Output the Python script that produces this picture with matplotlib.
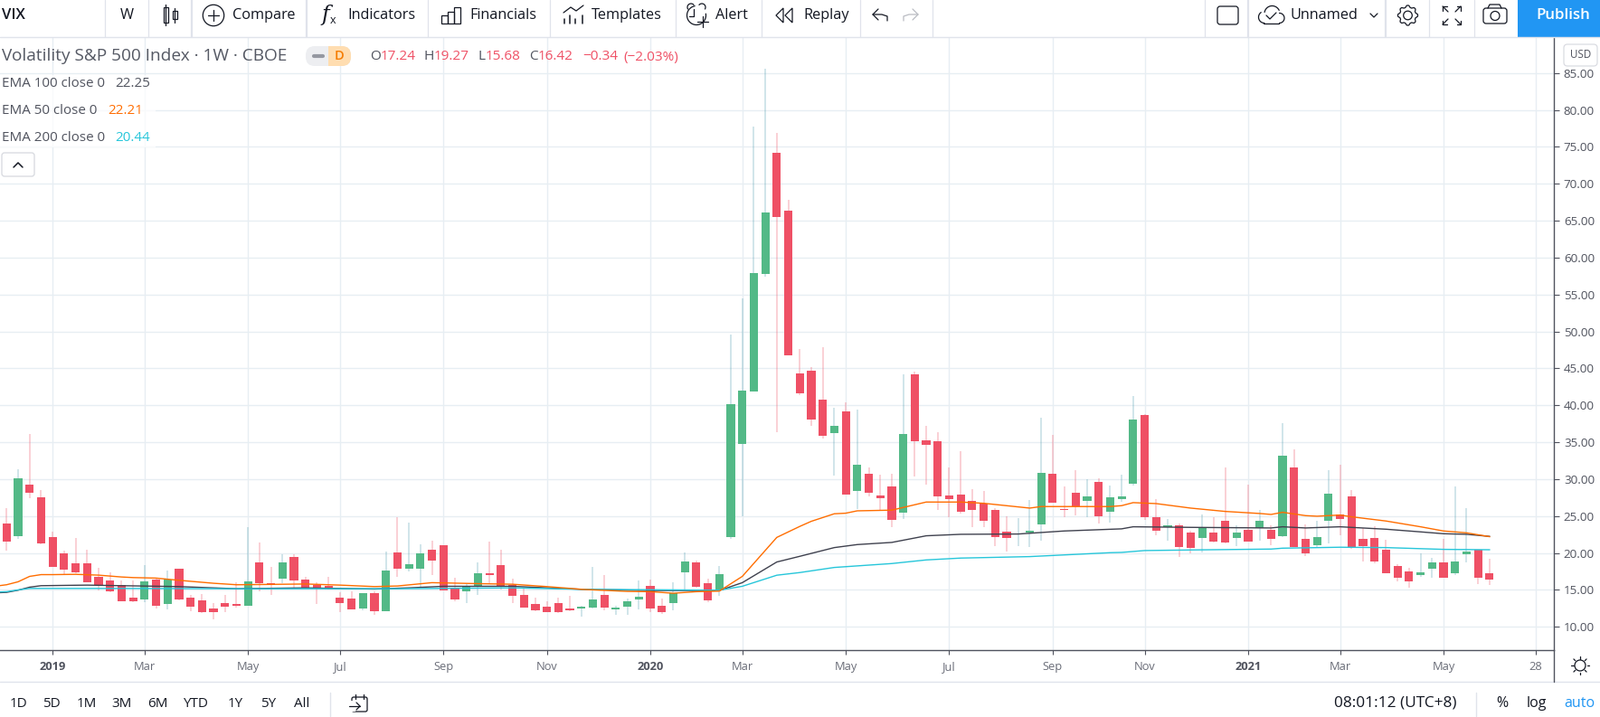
import matplotlib
matplotlib.use("Agg")
import matplotlib.pyplot as plt
from matplotlib.patches import Rectangle, Circle, FancyBboxPatch, Polygon
import numpy as np

opens = [23.94,22.24,29.31,27.60,22.11,19.92,18.58,18.58,16.75,16.26,
         15.65,13.94,13.70,16.38,13.09,17.85,13.94,13.58,12.48,13.21,
         13.09,12.85,18.70,15.89,16.50,19.43,16.38,15.65,15.53,13.94,
         13.82,12.48,14.55,12.11,20.04,17.85,17.85,20.41,21.02,15.16,
         14.80,15.41,17.24,18.33,15.65,14.31,13.09,12.72,13.21,12.48,
         12.48,12.60,14.31,12.36,12.72,13.70,15.53,12.85,13.21,17.36,
         18.70,15.89,14.92,22.11,34.8,41.9,57.8,74.2,66.4,44.33,
         44.7,40.8,36.24,39.18,28.41,30.73,27.80,29.02,25.47,44.20,
         35.27,35.14,27.80,27.92,27.06,26.69,25.84,22.90,22.49,22.78,
         23.88,30.73,25.96,28.16,27.06,29.63,25.59,27.31,29.39,38.69,
         24.86,23.51,23.76,22.78,22.04,22.78,24.37,22.04,23.14,23.39,
         23.14,22.29,31.59,21.92,21.06,24.37,25.22,27.67,21.92,22.04,
         20.45,18.24,17.51,17.02,17.88,18.73,17.27,19.84,20.45,17.24]
closes = [21.50,30.16,28.21,21.26,18.09,17.72,17.36,16.02,15.65,14.80,
          13.46,13.46,16.14,12.85,16.38,13.70,12.72,11.99,11.99,12.72,
          12.85,16.14,15.89,15.65,18.70,16.26,15.28,15.28,15.16,13.21,
          12.36,14.55,12.11,17.60,17.85,18.46,19.92,18.94,14.92,13.70,
          15.41,17.24,16.99,15.53,14.19,12.60,12.24,11.99,11.99,12.24,
          12.72,13.70,12.60,12.60,13.46,14.07,12.48,11.99,14.55,18.82,
          15.41,13.58,17.11,40.16,42.0,57.9,66.1,65.5,46.8,41.63,
          38.08,35.88,37.22,27.92,31.96,28.16,27.43,24.49,36.12,35.14,
          34.65,27.67,27.31,25.59,25.84,24.37,22.16,22.04,22.65,23.02,
          30.86,26.82,25.84,26.33,27.67,24.98,27.55,27.67,38.08,24.86,
          23.02,23.76,20.82,20.69,23.39,21.55,21.43,22.78,21.55,24.37,
          21.92,33.18,20.82,19.96,22.16,28.04,24.61,20.82,20.94,18.86,
          17.27,16.65,16.16,17.39,18.73,16.65,18.86,20.20,16.65,16.42]
highs = [26.02,31.38,36.14,28.58,22.85,20.28,21.99,20.41,17.97,17.36,
         16.26,16.26,18.33,16.50,17.60,17.85,14.31,14.43,13.21,14.31,
         16.02,23.46,21.38,18.09,19.80,19.80,16.75,16.02,16.75,14.67,
         14.80,14.55,14.80,20.16,24.80,24.07,21.14,21.63,21.02,16.63,
         15.77,18.70,21.50,20.41,16.50,15.16,13.94,13.46,13.94,14.19,
         12.85,18.09,16.99,12.85,13.82,16.26,16.38,13.82,16.02,20.04,
         18.94,16.50,18.21,49.6,54.5,77.75,85.6,76.9,67.8,47.6,
         45.2,47.9,39.67,40.41,39.43,31.59,30.61,30.73,44.20,44.57,
         37.22,36.37,31.59,33.80,28.65,28.41,26.08,24.98,24.73,27.18,
         38.33,36.0,29.02,31.22,30.0,30.12,29.14,30.61,41.27,38.82,
         27.31,24.61,24.0,23.02,25.22,24.86,31.59,23.76,29.27,25.84,
         23.76,37.59,34.04,23.88,24.37,31.22,31.96,28.53,23.39,23.63,
         21.80,18.49,18.0,19.96,19.35,21.92,29.02,26.08,20.45,19.27]
lows = [20.28,21.87,27.36,21.14,18.09,17.11,17.24,16.02,14.92,14.67,
        13.46,13.33,13.33,12.48,12.36,13.58,12.11,11.87,11.02,11.99,
        12.60,12.85,14.80,14.31,15.89,15.28,15.16,13.09,15.04,11.99,
        12.36,12.24,11.63,12.11,16.75,17.48,15.28,16.99,14.92,13.46,
        13.21,14.31,15.89,15.04,13.21,12.60,12.11,11.99,11.87,12.11,
        11.38,12.48,12.24,11.63,11.63,12.36,11.99,11.75,12.24,15.04,
        15.28,13.33,14.19,21.87,25.0,41.9,57.4,36.4,46.8,41.43,
        37.22,35.51,30.49,27.92,25.96,27.67,25.84,23.51,24.61,30.37,
        29.27,25.84,24.86,25.35,23.51,23.51,20.94,20.20,20.94,20.82,
        21.67,26.82,24.86,25.10,24.86,24.0,24.12,26.94,29.14,24.49,
        22.41,21.67,19.47,19.96,20.08,21.43,21.31,20.94,21.55,21.67,
        21.06,22.16,20.82,19.59,20.82,21.31,22.41,20.57,18.86,18.61,
        17.27,16.16,15.31,16.78,16.65,16.65,17.02,18.73,15.80,15.68]

ema50_idx = [-1,0,1,2,3,4,6,8,10,11,13,15,18,20,22,26,29,32,34,37,41,44,47,50,54,56,58,60,62,64,67,69,70,72,73,74,77,80,83,85,89,90,96,97,98,100,103,106,109,110,111,113,114,116,117,120,123,125,127,129]
ema50 = [15.5,15.7,16.1,16.83,17.07,17.07,17.11,17.0,16.75,16.67,16.6,16.3,15.9,15.7,15.73,15.8,15.65,15.45,15.53,15.98,15.85,15.77,15.45,15.08,14.8,14.76,14.55,14.76,14.84,16.83,22.11,23.6,24.29,25.31,25.39,25.71,25.8,26.9,26.9,26.73,26.08,26.29,26.29,26.41,26.82,26.69,26.08,25.63,25.35,25.22,25.51,25.06,24.98,25.14,24.9,24.33,23.55,22.98,22.73,22.21]
ema100_idx = [-1,0,1,2,3,7,10,15,20,26,32,35,38,44,50,56,62,64,67,69,72,74,77,80,83,88,92,97,98,103,110,111,113,116,120,123,125,127,129]
ema100 = [14.6,14.67,14.96,15.37,15.57,15.65,15.57,15.45,15.16,15.28,15.12,15.28,15.49,15.49,15.08,14.92,14.92,15.98,18.78,19.55,20.73,21.14,21.43,22.33,22.53,22.57,22.98,23.27,23.55,23.47,23.39,23.55,23.39,23.55,23.22,22.86,22.61,22.53,22.25]
ema200_idx = [-1,0,1,2,4,10,20,34,44,50,62,64,67,69,72,77,80,83,89,96,97,99,103,110,111,116,120,125,129]
ema200 = [14.7,14.76,15.0,15.2,15.2,15.2,15.16,15.16,15.28,15.08,14.96,15.49,16.99,17.35,18.04,18.57,19.06,19.31,19.51,20.04,20.08,20.33,20.41,20.53,20.65,20.78,20.73,20.49,20.44]

x_tick_idx = [4,12,21,29,38,47,56,64,73,82,91,99,108,116,125,133]
x_tick_labels = ["2019","Mar","May","Jul","Sep","Nov","2020","Mar","May","Jul","Sep","Nov","2021","Mar","May","28"]
y_ticks = [10,15,20,25,30,35,40,45,50,55,60,65,70,75,80,85]

W, H = 1769, 793
FONT = "Open Sans"
plt.rcParams["font.family"] = FONT
RED, GREEN = "#EF5065", "#53B987"
GRID = "#E7EEF3"
DARK = "#131722"
GRAY = "#50535E"
SEP = "#E0E3EB"

fig = plt.figure(figsize=(W/100, H/100), dpi=100, facecolor="white")
top_px, bot_px, right_px = 41.5, 719.4, 1718
ax = fig.add_axes([0, 1-bot_px/H, right_px/W, (bot_px-top_px)/H])
ax.set_xlim(-0.574, 134.6)
ax.set_ylim(6.80, 89.81)

x = np.arange(len(opens))
o, h, l, c = map(np.array, (opens, highs, lows, closes))
up = c >= o
ax.vlines(x[up], l[up], h[up], colors="#2B8A9E", alpha=0.27, linewidth=1.15, zorder=2)
ax.vlines(x[~up], l[~up], h[~up], colors=RED, alpha=0.33, linewidth=1.15, zorder=2)
colors = [GREEN if u else RED for u in up]
ax.bar(x, np.abs(c-o), bottom=np.minimum(o, c), width=0.72, color=colors, linewidth=0, zorder=3)
ax.plot(ema100_idx, ema100, color="#3F414E", lw=1.0, zorder=4)
ax.plot(ema200_idx, ema200, color="#26C6DA", lw=1.0, zorder=4)
ax.plot(ema50_idx, ema50, color="#FF6D00", lw=1.0, zorder=5)

ax.set_axisbelow(True)
ax.grid(True, color=GRID, lw=1.0)
for s in ("top", "left"):
    ax.spines[s].set_visible(False)
for s in ("right", "bottom"):
    ax.spines[s].set_color(GRAY)
    ax.spines[s].set_linewidth(1.0)
ax.yaxis.tick_right()
ax.set_yticks(y_ticks)
ax.set_yticklabels([f"{v:.2f}" for v in y_ticks], fontsize=9.6, color=GRAY)
ax.tick_params(axis="y", length=4.2, width=0.8, color=GRAY, pad=3.6)
ax.set_xticks(x_tick_idx)
ax.set_xticklabels(x_tick_labels, fontsize=9.3, color="#6A6D78")
ax.tick_params(axis="x", length=3.6, width=0.8, color=GRAY, pad=5)
for t in ax.get_xticklabels():
    if t.get_text().startswith("20"):
        t.set_fontweight("bold")
        t.set_color(GRAY)

ui = fig.add_axes([0, 0, 1, 1], zorder=10)
ui.set_xlim(0, W)
ui.set_ylim(H, 0)
ui.axis("off")
ui.patch.set_alpha(0)


def T(px, py, s, size=11.7, color=DARK, ha="left", **kw):
    return ui.text(px, py, s, fontsize=size, color=color, ha=ha, va="center", **kw)


def L(xs, ys, color=DARK, lw=0.9, **kw):
    ui.plot(xs, ys, color=color, lw=lw, solid_capstyle="round", **kw)


def R(px, py, w, h_, fc="none", ec=DARK, lw=0.9, rad=0.0):
    if rad:
        ui.add_patch(FancyBboxPatch((px+rad, py+rad), w-2*rad, h_-2*rad,
                                    boxstyle=f"round,pad={rad},rounding_size={rad}",
                                    fc=fc, ec=ec, lw=lw))
    else:
        ui.add_patch(Rectangle((px, py), w, h_, fc=fc, ec=ec, lw=lw))


def arc(cx, cy, r, a0, a1):
    a = np.radians(np.linspace(a0, a1, 30))
    L(cx+r*np.cos(a), cy+r*np.sin(a))


# header, footer frames
L([0, W], [41, 41], SEP, 1.0)
L([0, W], [754, 754], SEP, 1.0)
L([right_px, right_px], [719, 754], GRAY, 1.0)
for sx in [116, 164, 473, 608, 747, 842, 951, 1031, 1332, 1580, 1630]:
    L([sx, sx], [0, 41], SEP, 0.9)
for sx in [212, 339, 1380, 1532]:
    L([sx, sx], [0, 41], SEP, 1.6)
R(1678, 0, 91, 41, fc="#2196F3", ec="none", lw=0)
T(1728, 17, "Publish", 12.2, "white", ha="center", fontweight="semibold")

T(2, 17, "VIX", 12, fontweight="medium")
T(140, 17, "W", 11.7, ha="center")
# candles icon
L([183, 183], [5, 28]); R(180.5, 8, 5.5, 17, fc="white")
L([193, 193], [9, 25]); R(190.5, 12, 5, 9, fc="white")
# compare
ui.add_patch(Circle((236, 17), 11.7, fc="none", ec=DARK, lw=0.9))
L([230, 242], [17, 17]); L([236, 236], [11, 23])
T(257, 17, "Compare")
# indicators
T(355, 17, "f", 17, style="italic", family="DejaVu Serif")
T(365, 22.5, "x", 9)
T(384, 17, "Indicators")
# financials
for bx, by in [(488, 17), (495, 13), (502, 8)]:
    R(bx, by, 6.5, 26-by)
T(519, 17, "Financials")
# templates
L([623, 631, 637, 645], [14, 8, 12, 6])
for bx, by in [(624, 21), (630, 17), (636, 21), (644, 17)]:
    L([bx, bx], [by, 26], lw=1.1)
T(654, 17, "Templates")
# alert
arc(770, 17, 10.5, -10, 360-100)
arc(764, 8, 4, 150, 320)
arc(776, 8, 4, 220, 390)
L([767, 767, 762], [10, 18, 18])
L([771, 783], [24, 24]); L([777, 777], [18, 30])
T(791, 17, "Alert")
# replay
ui.add_patch(Polygon([[866, 9], [858, 17], [866, 25]], fc="none", ec=DARK, lw=0.9))
ui.add_patch(Polygon([[876, 9], [868, 17], [876, 25]], fc="none", ec=DARK, lw=0.9))
T(888, 17, "Replay")
# undo / redo
L([971, 965, 971], [10, 16, 22 - 0]); arc(972, 23, 8, 265, 360) if False else None
L([965, 975, 981, 981], [16, 16, 18, 23])
L([1002, 996, 1002][::-1], [10, 16, 22]) if False else None
L([1009, 1015, 1009], [10, 16, 22], "#B9BBC2")
L([1015, 1005, 999, 999], [16, 16, 18, 23], "#B9BBC2")
# right toolbar
R(1346, 7, 23, 20, rad=3)
L([1397, 1414], [25.5, 25.5])
arc(1398, 19, 6.5, 90, 235)
arc(1406.5, 15, 8.5, 190, 335)
arc(1414.5, 20, 5.5, -90, 90 + 0)
L([1400, 1404, 1411], [17, 21, 14])
T(1426, 17, "Unnamed")
L([1515, 1519, 1523], [15, 19, 15])
teeth = np.linspace(0, 2*np.pi, 65)
gr = 10 + 2*np.clip(3*np.cos(8*teeth), -1, 1)*0.5
L(1556.5+gr*np.cos(teeth), 17+gr*np.sin(teeth), lw=0.9)
ui.add_patch(Circle((1556.5, 17), 4.8, fc="none", ec=DARK, lw=0.9))
for sx, sy in [(-1, -1), (1, -1), (-1, 1), (1, 1)]:
    L([1605+sx*4, 1605+sx*10], [17+sy*4, 17+sy*10])
    L([1605+sx*10, 1605+sx*10, 1605+sx*5.5], [17+sy*5.5, 17+sy*10, 17+sy*10])
R(1640, 9, 26, 17, rad=3)
L([1645, 1647, 1658, 1660], [9, 5, 5, 9])
ui.add_patch(Circle((1653, 17.5), 5, fc="none", ec=DARK, lw=0.9))

# legend
R(0, 83, 172, 80, fc="white", ec="none", lw=0)
ui.patches[-1].set_alpha(0.75)
T(2, 62, "Volatility S&P 500 Index · 1W · CBOE", 13.7, "#555964")
R(338, 51, 50, 22, fc="#EDEEF1", ec="none", lw=0, rad=10)
R(363, 51, 25, 22, fc="#FFDDB0", ec="none", lw=0, rad=10)
R(363, 51, 10, 22, fc="#FFDDB0", ec="none", lw=0)
L([347, 357], [62, 62], "#9598A1", 3)
T(375, 62, "D", 10.5, "#F57C00", ha="center", fontweight="semibold")
for px, s, col in [(409, "O", GRAY), (421, "17.24", RED), (468, "H", GRAY), (480, "19.27", RED),
                   (528, "L", GRAY), (537, "15.68", RED), (585, "C", GRAY), (595, "16.42", RED),
                   (644, "−0.34", RED), (689, "(−2.03%)", RED)]:
    T(px, 63, s, 11.1, col)
for py, name, vx, val, col in [(92, "EMA 100 close 0", 127, "22.25", GRAY),
                               (122, "EMA 50 close 0", 119, "22.21", "#FF6D00"),
                               (152, "EMA 200 close 0", 127, "20.44", "#26C6DA")]:
    T(2, py, name, 10.9, GRAY)
    T(vx, py, val, 10.9, col)
R(2, 169, 36, 26, fc="white", ec="#D6D8DE", lw=0.9, rad=3)
L([15, 20, 25], [185, 180, 185], DARK, 1.1)
R(1729, 49, 37, 24, fc="white", ec="#DADCE2", lw=0.9, rad=4)
T(1747.5, 61, "USD", 8.4, GRAY, ha="center")

# sun icon
ui.add_patch(Circle((1747, 736), 6, fc="none", ec=DARK, lw=0.9))
for a in np.arange(8)*np.pi/4:
    L([1747+7.5*np.cos(a), 1747+10*np.cos(a)], [736+7.5*np.sin(a), 736+10*np.sin(a)])

# footer
for px, s in [(20, "1D"), (57, "5D"), (96, "1M"), (135, "3M"), (174, "6M"), (217, "YTD"),
              (260, "1Y"), (297, "5Y"), (334, "All")]:
    T(px, 778, s, 10.9, ha="center")
L([365, 365], [766, 792], SEP, 1.0)
R(389, 771, 17, 16, rad=2)
R(385, 775, 8, 12, fc="white", ec="white", lw=0)
L([386, 398], [781, 781]); L([394, 398, 394], [777, 781, 785])
L([393, 393], [768, 773]); L([402, 402], [768, 773])
T(1475, 778, "08:01:12 (UTC+8)", 12.4)
L([1632, 1632], [766, 792], SEP, 1.0)
T(1661, 778, "%", 11.5, ha="center")
T(1699, 778, "log", 11.5, ha="center")
T(1746, 778, "auto", 11.5, "#2196F3", ha="center")

fig.savefig("out.png", dpi=100, facecolor="white")
